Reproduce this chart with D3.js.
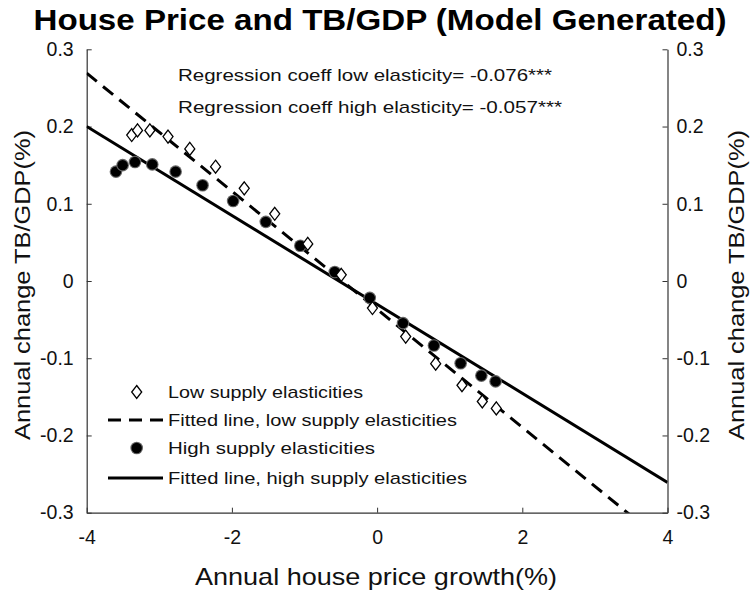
<!DOCTYPE html>
<html><head><meta charset="utf-8">
<script src="https://cdn.jsdelivr.net/npm/d3@7"></script>
<style>body{margin:0;background:#fff}svg{display:block}text{font-family:"Liberation Sans",Arial,sans-serif}</style>
</head><body><svg id="c" width="751" height="593"></svg>
<script>
const lowX = [-3.38,-3.30,-3.13,-2.88,-2.58,-2.225,-1.83,-1.41,-0.955,-0.494,-0.064,0.394,0.807,1.169,1.449,1.642];
const lowY = [0.189,0.195,0.195,0.187,0.171,0.148,0.120,0.087,0.048,0.008,-0.035,-0.072,-0.107,-0.135,-0.156,-0.165];
const highX = [-3.597,-3.505,-3.335,-3.097,-2.775,-2.404,-1.983,-1.533,-1.058,-0.583,-0.101,0.357,0.783,1.151,1.436,1.632];
const highY = [0.1416,0.150,0.154,0.151,0.1416,0.124,0.1035,0.0766,0.0457,0.0117,-0.0218,-0.0545,-0.0835,-0.1065,-0.1225,-0.130];
const lowFit = {slope:-0.0764, intercept:-0.0366};
const highFit = {slope:-0.0576, intercept:-0.0303};
const xTicks = [-4,-2,0,2,4];
const yTicks = [-0.3,-0.2,-0.1,0,0.1,0.2,0.3];
const legendLabels = ["Low supply elasticities","Fitted line, low supply elasticities","High supply elasticities","Fitted line, high supply elasticities"];
const notes = ["Regression coeff low elasticity= -0.076***","Regression coeff high elasticity= -0.057***"];

const svg = d3.select("#c");
const L=86.7, R=667.5, T=49.3, B=512.7;
const x = d3.scaleLinear().domain([-4,4]).range([L,R]);
const y = d3.scaleLinear().domain([-0.3,0.3]).range([B,T]);

const defs = svg.append("defs");
defs.append("clipPath").attr("id","clip").append("rect")
  .attr("x",L).attr("y",T-30).attr("width",R-L).attr("height",B-T+30);
defs.append("filter").attr("id","blur").append("feGaussianBlur").attr("stdDeviation",0.7);

svg.append("text").attr("x",380).attr("y",30).attr("text-anchor","middle")
  .attr("font-size",30).attr("font-weight","bold").attr("textLength",693).attr("lengthAdjust","spacingAndGlyphs")
  .text("House Price and TB/GDP (Model Generated)");

const fmt = d => d===0 ? "0" : d3.format(".1f")(d).replace("\u2212","-");
const gL = svg.append("g").attr("transform",`translate(${L},0)`)
  .call(d3.axisLeft(y).tickValues(yTicks).tickFormat(fmt).tickSizeInner(-5).tickSizeOuter(0).tickPadding(13));
const gR = svg.append("g").attr("transform",`translate(${R},0)`)
  .call(d3.axisRight(y).tickValues(yTicks).tickFormat(fmt).tickSizeInner(-5).tickSizeOuter(0).tickPadding(9));
const gB = svg.append("g").attr("transform",`translate(0,${B})`)
  .call(d3.axisBottom(x).tickValues(xTicks).tickFormat(d=>String(d)).tickSizeInner(-5).tickSizeOuter(0).tickPadding(15));
[gL,gR,gB].forEach(g=>{
  g.selectAll("path.domain").attr("stroke","#333").attr("stroke-width",1.2);
  g.selectAll(".tick line").attr("stroke","#333");
  g.selectAll("text").attr("font-size",19.5).attr("fill","#111").attr("font-family","Liberation Sans, Arial, sans-serif");
});
gB.selectAll("text").attr("dy","0.82em");

svg.append("text").attr("x",376).attr("y",585).attr("text-anchor","middle").attr("font-size",24).attr("fill","#111")
  .attr("textLength",362).attr("lengthAdjust","spacingAndGlyphs").text("Annual house price growth(%)");
svg.append("text").attr("transform","translate(30,285) rotate(-90)").attr("text-anchor","middle").attr("font-size",22).attr("fill","#111")
  .attr("textLength",310).attr("lengthAdjust","spacingAndGlyphs").text("Annual change TB/GDP(%)");
svg.append("text").attr("transform","translate(744,285) rotate(-90)").attr("text-anchor","middle").attr("font-size",22).attr("fill","#111")
  .attr("textLength",310).attr("lengthAdjust","spacingAndGlyphs").text("Annual change TB/GDP(%)");

const plot = svg.append("g").attr("clip-path","url(#clip)");
const fitLine = f => d3.line().x(d=>x(d)).y(d=>y(f.intercept+f.slope*d))([-4,4]);
plot.append("path").attr("d",fitLine(lowFit)).attr("stroke","#000").attr("stroke-width",3).attr("stroke-dasharray","13,8").attr("fill","none");
plot.append("path").attr("d",fitLine(highFit)).attr("stroke","#000").attr("stroke-width",3).attr("fill","none");

const diamond = (cx,cy) => `M${cx},${cy-6.5}L${cx+5},${cy}L${cx},${cy+6.5}L${cx-5},${cy}Z`;
const dotG = svg.append("g");
highX.forEach((v,i)=>{
  dotG.append("circle").attr("cx",x(v)).attr("cy",y(highY[i])).attr("r",6.3).attr("fill","#666").attr("filter","url(#blur)");
  dotG.append("circle").attr("cx",x(v)).attr("cy",y(highY[i])).attr("r",5.2).attr("fill","#000");
});
lowX.forEach((v,i)=>{
  svg.append("path").attr("d",diamond(x(v),y(lowY[i]))).attr("fill","#fff").attr("stroke","#000").attr("stroke-width",1.3);
});

const noteW = [374,384];
notes.forEach((t,i)=>svg.append("text").attr("x",178).attr("y",81+i*32).attr("font-size",17).attr("fill","#111")
  .attr("textLength",noteW[i]).attr("lengthAdjust","spacingAndGlyphs").text(t));

const lg = svg.append("g");
const ly = [392,420,448,478];
const lw = [195,289,207,299];
lg.append("path").attr("d",diamond(136.7,ly[0])).attr("fill","#fff").attr("stroke","#000").attr("stroke-width",1.3);
lg.append("line").attr("x1",108).attr("x2",163).attr("y1",ly[1]).attr("y2",ly[1]).attr("stroke","#000").attr("stroke-width",3).attr("stroke-dasharray","13,8");
lg.append("circle").attr("cx",136.7).attr("cy",ly[2]).attr("r",6.3).attr("fill","#666").attr("filter","url(#blur)");
lg.append("circle").attr("cx",136.7).attr("cy",ly[2]).attr("r",5.2).attr("fill","#000");
lg.append("line").attr("x1",108).attr("x2",163).attr("y1",ly[3]).attr("y2",ly[3]).attr("stroke","#000").attr("stroke-width",3);
legendLabels.forEach((t,i)=>lg.append("text").attr("x",168).attr("y",ly[i]+6).attr("font-size",17).attr("fill","#111")
  .attr("textLength",lw[i]).attr("lengthAdjust","spacingAndGlyphs").text(t));
</script></body></html>
